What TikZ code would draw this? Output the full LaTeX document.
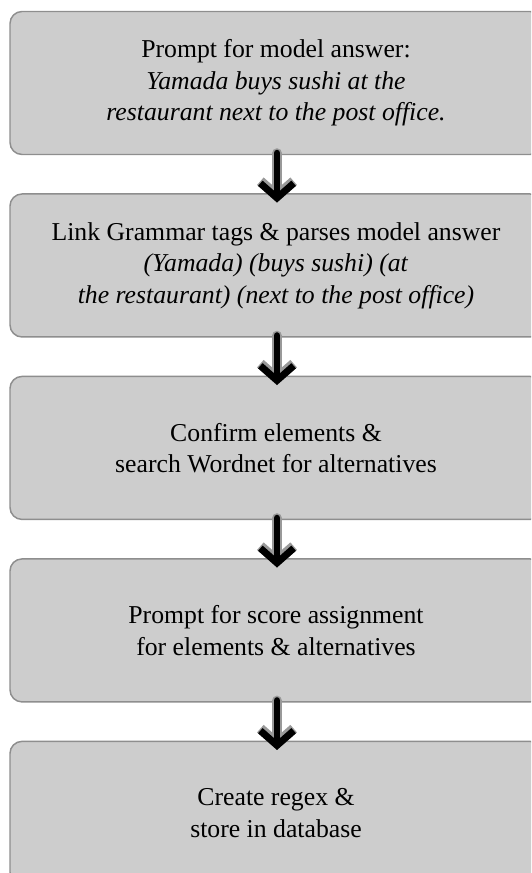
\documentclass[tikz,border=0pt]{standalone}
\usepackage{fontspec}
\setmainfont{Liberation Serif}
\usetikzlibrary{positioning,arrows.meta}
\definecolor{boxfill}{HTML}{CDCDCD}
\definecolor{boxline}{HTML}{8E8E8E}

\begin{document}
\begin{tikzpicture}[x=0.75pt,y=0.75pt,line cap=round,line join=round,
    stepbox/.style={draw=boxline,fill=boxfill,line width=1.1pt,rounded corners=9pt,
      minimum width=399pt,minimum height=107.25pt,align=center,inner sep=0pt,
      font=\fontsize{19.3}{23.6}\selectfont},
    flow/.style={line width=5.2pt,-{Straight Barb[length=11pt,width=25pt]},
      preaction={draw=black!40,line width=7.5pt}}]
  \useasboundingbox (0,0) rectangle (531,-873);
  \clip (0,0) rectangle (531,-873);
  \node[stepbox] (b1) at (276,-83) {Prompt for model answer:\\
    \textit{Yamada buys sushi at the}\\
    \textit{restaurant next to the post office.}};
  \node[stepbox,below=28.5pt of b1] (b2) {Link Grammar tags \& parses model answer\\
    \textit{(Yamada) (buys sushi) (at}\\
    \textit{the restaurant) (next to the post office)}};
  \node[stepbox,below=28.5pt of b2] (b3) {Confirm elements \&\\
    search Wordnet for alternatives};
  \node[stepbox,below=28.5pt of b3] (b4) {Prompt for score assignment\\
    for elements \& alternatives};
  \node[stepbox,below=28.5pt of b4] (b5) {Create regex \&\\
    store in database};
  % arrows between the steps
  \foreach \a/\b in {b1/b2,b2/b3,b3/b4,b4/b5}
    \draw[flow] ([xshift=0.75pt,yshift=1.5pt]\a.south) -- ([xshift=0.75pt,yshift=-7pt]\b.north);
\end{tikzpicture}
\end{document}
